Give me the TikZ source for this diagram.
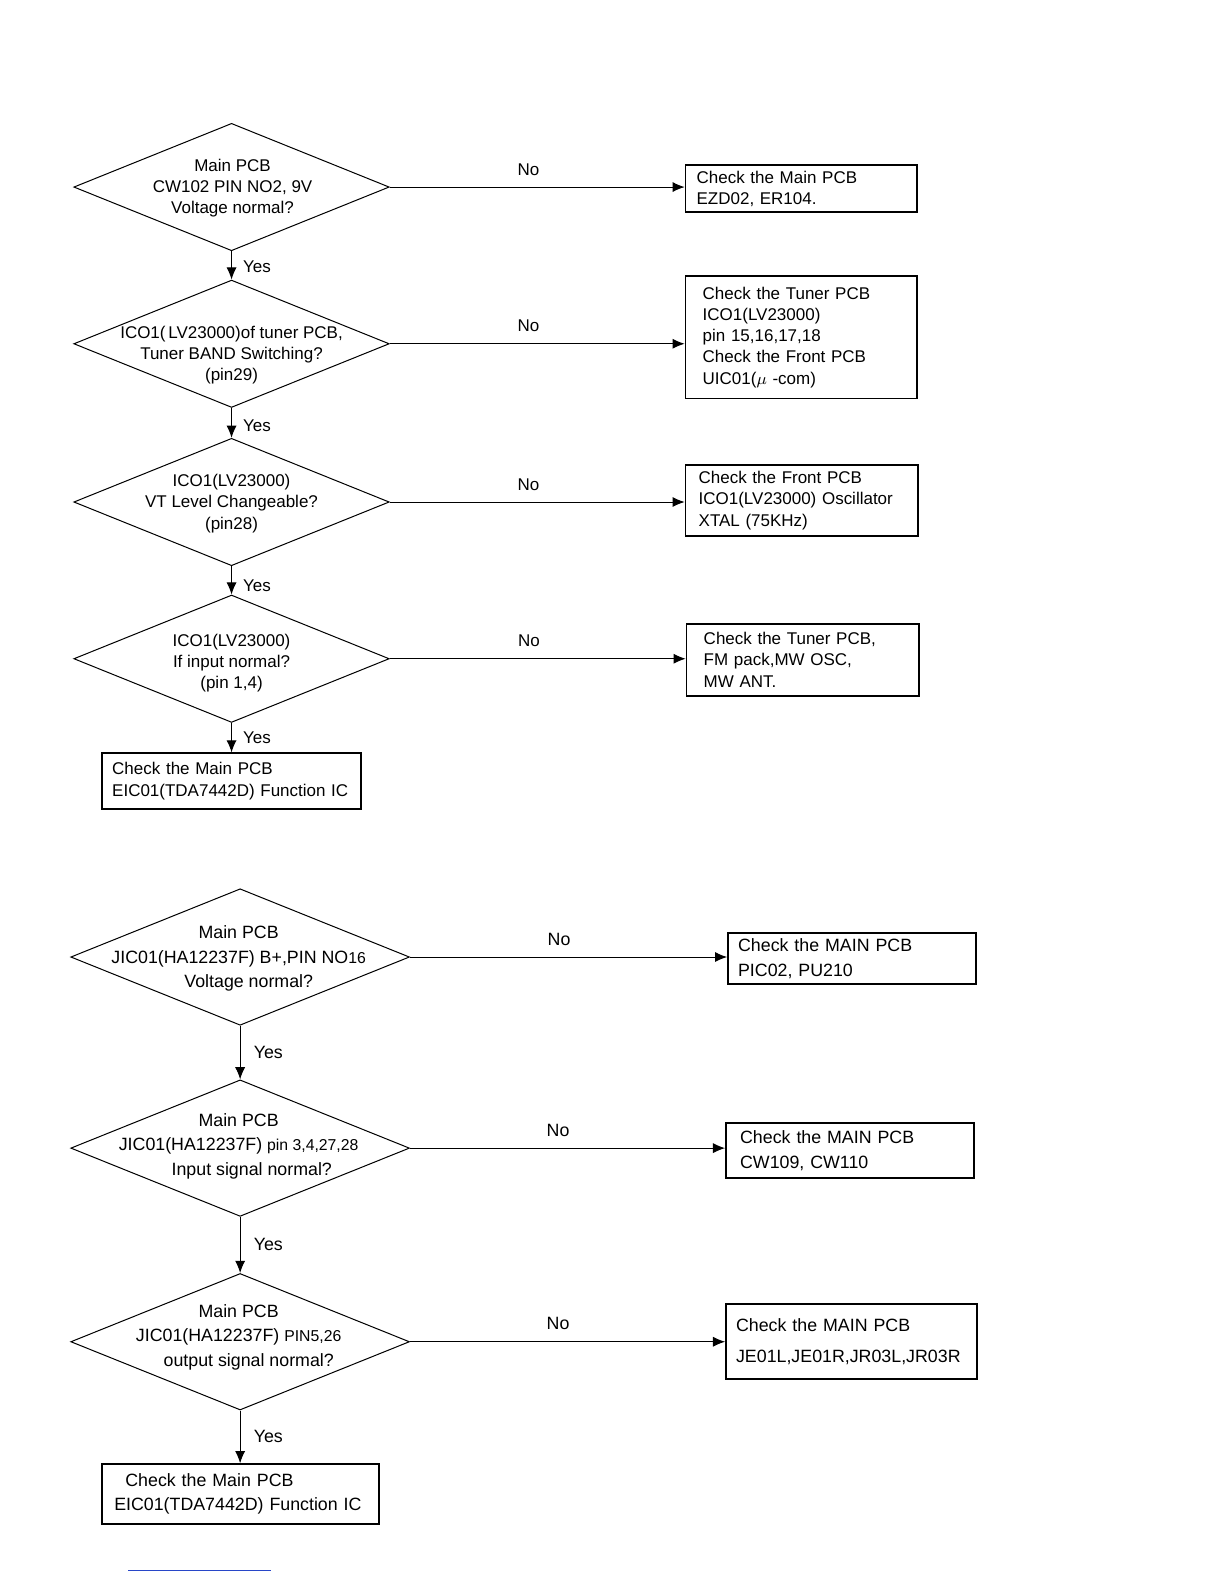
\documentclass[tikz,border=0pt]{standalone}
\usepackage{fontspec}
\setmainfont{Liberation Sans}
\usetikzlibrary{shapes.geometric,arrows.meta}

\newcommand\fcupper{\fontsize{8.4}{10.5}\selectfont}
\newcommand\fclower{\fontsize{8.8}{12.2}\selectfont}
\newcommand\fcsmall{\fontsize{7.8}{10}\selectfont}

\tikzset{
  decision/.style={diamond, draw, line width=0.5pt, inner sep=0pt},
  upperq/.style={minimum width=156pt, minimum height=63pt},
  lowerq/.style={minimum width=167.5pt, minimum height=67.5pt},
  qtext/.style={align=center, inner sep=0pt},
  checkbox/.style={draw, line width=0.85pt, align=left, inner ysep=0pt},
  flow/.style={-{Latex[length=6pt,width=5pt]}, line width=0.5pt},
  answer/.style={inner sep=1pt},
}

\begin{document}
\begin{tikzpicture}[x=0.5pt, y=-0.5pt]
    \useasboundingbox (0,0) rectangle (1210.6,1566.6);

    % upper chart
    \begin{scope}[font=\fcupper]
        \node[decision, upperq] (q1) at (229,185) {};
        \node[qtext] (q1t) at (230,186) {Main PCB\\CW102 PIN NO2, 9V\\Voltage normal?};
        \node[checkbox, inner xsep=5.5pt, text width=103.5pt, minimum height=23.5pt] (a1) at (792.5,186.5)
            {Check the Main PCB\\EZD02, ER104.};

        \node[decision, upperq] (q2) at (229,340) {};
        \node[qtext] (q2t) at (229,351) {ICO1(\,LV23000)of tuner PCB,\\Tuner BAND Switching?\\(pin29)};
        \node[checkbox, inner xsep=8.5pt, text width=97.5pt, minimum height=60.5pt] (a2) at (792.5,333.5)
            {Check the Tuner PCB\\ICO1(LV23000)\\pin 15,16,17,18\\Check the Front PCB\\UIC01($\mu$ -com)};

        \node[decision, upperq] (q3) at (229,496.5) {};
        \node[qtext] (q3t) at (229,498) {ICO1(LV23000)\\VT Level Changeable?\\(pin28)};
        \node[checkbox, inner xsep=6.5pt, text width=102pt, minimum height=35pt] (a3) at (793,495)
            {Check the Front PCB\\ICO1(LV23000) Oscillator\\XTAL (75KHz)};

        \node[decision, upperq] (q4) at (229,651.5) {};
        \node[qtext] (q4t) at (229,656) {ICO1(LV23000)\\If input normal?\\(pin 1,4)};
        \node[checkbox, inner xsep=8.5pt, text width=98pt, minimum height=35.5pt] (a4) at (794,652.5)
            {Check the Tuner PCB,\\FM pack,MW OSC,\\MW ANT.};

        \node[checkbox, inner xsep=5pt, text width=118pt, minimum height=27.5pt] (a5) at (229,772.5)
            {Check the Main PCB\\EIC01(TDA7442D) Function IC};

        \draw[flow] (q1.east) -- node[answer, above=4.5pt, pos=0.47]{No} (q1.east -| a1.west);
        \draw[flow] (q2.east) -- node[answer, above=4.5pt, pos=0.47]{No} (q2.east -| a2.west);
        \draw[flow] (q3.east) -- node[answer, above=4.5pt, pos=0.47]{No} (q3.east -| a3.west);
        \draw[flow] (q4.east) -- node[answer, above=4.5pt, pos=0.47]{No} (q4.east -| a4.west);

        \draw[flow] (q1.south) -- node[answer, right=4.5pt, pos=0.55]{Yes} (q2.north);
        \draw[flow] (q2.south) -- node[answer, right=4.5pt, pos=0.6]{Yes} (q3.north);
        \draw[flow] (q3.south) -- node[answer, right=4.5pt, pos=0.7]{Yes} (q4.north);
        \draw[flow] (q4.south) -- node[answer, right=4.5pt, midway]{Yes} (a5.north);
    \end{scope}

    % lower chart
    \begin{scope}[font=\fclower]
        \node[decision, lowerq] (q5) at (237.5,946.5) {};
        \node[qtext] (q5t) at (236,948) {Main PCB\\JIC01(HA12237F) B+,PIN NO{\fcsmall 16}\\\hspace*{10pt}Voltage normal?};
        \node[checkbox, inner xsep=5pt, text width=112.5pt, minimum height=25pt] (a6) at (842.5,948)
            {Check the MAIN PCB\\PIC02, PU210};

        \node[decision, lowerq] (q6) at (237.5,1135.5) {};
        \node[qtext] (q6t) at (236,1133.5) {Main PCB\\JIC01(HA12237F) {\fcsmall pin 3,4,27,28}\\\hspace*{13pt}Input signal normal?};
        \node[checkbox, inner xsep=7pt, text width=108.5pt, minimum height=27pt] (a7) at (840.5,1138)
            {Check the MAIN PCB\\CW109, CW110};

        \node[decision, lowerq] (q7) at (237.5,1327) {};
        \node[qtext] (q7t) at (236,1322.5) {Main PCB\\JIC01(HA12237F) {\fcsmall PIN5,26}\\\hspace*{10pt}output signal normal?};
        \node[checkbox, inner xsep=5pt, text width=114pt, minimum height=37pt] (a8) at (842,1327)
            {Check the MAIN PCB\\[3.3pt]JE01L,JE01R,JR03L,JR03R};

        \node[checkbox, inner xsep=6pt, text width=125pt, minimum height=29.5pt] (a9) at (238,1477.5)
            {\hspace*{5.5pt}Check the Main PCB\\EIC01(TDA7442D) Function IC};

        \draw[flow] (q5.east) -- node[answer, above=4.5pt, pos=0.47]{No} (q5.east -| a6.west);
        \draw[flow] (q6.east) -- node[answer, above=4.5pt, pos=0.47]{No} (q6.east -| a7.west);
        \draw[flow] (q7.east) -- node[answer, above=4.5pt, pos=0.47]{No} (q7.east -| a8.west);

        \draw[flow] (q5.south) -- node[answer, right=5.5pt, midway]{Yes} (q6.north);
        \draw[flow] (q6.south) -- node[answer, right=5.5pt, midway]{Yes} (q7.north);
        \draw[flow] (q7.south) -- node[answer, right=5.5pt, midway]{Yes} (q7.south |- a9.north);
    \end{scope}

    \draw[color={rgb,255:red,40;green,70;blue,200}, line width=0.6pt] (127,1553) -- (268,1553);
\end{tikzpicture}
\end{document}
